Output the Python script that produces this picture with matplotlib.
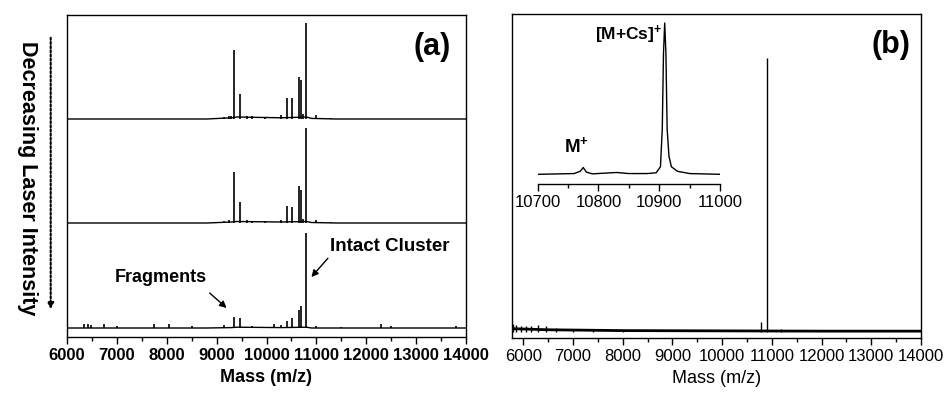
import numpy as np
import matplotlib
matplotlib.use("Agg")
import matplotlib.pyplot as plt
from matplotlib.ticker import MultipleLocator

plt.rcParams['font.family'] = ['Liberation Sans', 'DejaVu Sans']
plt.rcParams['mathtext.fontset'] = 'custom'
plt.rcParams['mathtext.rm'] = 'Liberation Sans'
plt.rcParams['mathtext.bf'] = 'Liberation Sans:bold'

# panel (a): three spectra, peak masses and relative heights
top_mass = [9150, 9250, 9290, 9350, 9460, 9600, 9700, 9960, 10300, 10410, 10520, 10650, 10685, 10740, 10785, 10990, 11300]
top_int = [0.02, 0.03, 0.03, 0.69, 0.25, 0.03, 0.03, 0.02, 0.04, 0.21, 0.21, 0.42, 0.39, 0.05, 0.96, 0.04, 0.01]
mid_mass = [8950, 9150, 9250, 9350, 9460, 9600, 9700, 9960, 10300, 10410, 10520, 10650, 10685, 10740, 10785, 10990, 11300]
mid_int = [0.01, 0.02, 0.03, 0.51, 0.21, 0.03, 0.02, 0.02, 0.03, 0.17, 0.16, 0.37, 0.33, 0.04, 0.95, 0.03, 0.01]
bot_mass = [6350, 6420, 6480, 6750, 7000, 7750, 8050, 8500, 9150, 9350, 9460, 9700, 10150, 10300, 10410, 10520,
            10650, 10700, 10785, 11000, 11500, 12300, 12500, 13800]
bot_int = [0.04, 0.04, 0.03, 0.04, 0.02, 0.04, 0.04, 0.02, 0.03, 0.11, 0.10, 0.02, 0.04, 0.03, 0.07, 0.10,
           0.18, 0.22, 0.95, 0.02, 0.01, 0.04, 0.02, 0.02]
# slow baseline hump under the fragment region
env_mass = [6000, 8800, 9300, 9400, 10300, 10800, 10900, 11400, 14000]
env_top = [0, 0, 0.012, 0.02, 0.012, 0.02, 0.006, 0, 0]
env_mid = [0, 0, 0.01, 0.015, 0.01, 0.015, 0.005, 0, 0]
env_bot = [0, 0, 0.004, 0.008, 0.004, 0.008, 0, 0, 0]
offsets = [2.09, 1.05, 0.0]

# panel (b): full spectrum
b_mass = [5800, 5850, 5950, 6050, 6150, 6300, 6450, 6650, 7000, 7400, 8000, 10780, 10900, 11180]
b_int = [0.03, 0.025, 0.02, 0.02, 0.02, 0.025, 0.02, 0.015, 0.01, 0.01, 0.008, 0.036, 1.0, 0.012]
b_base_mass = [5780, 6500, 8000, 10000, 12000, 14000]
b_base_int = [0.012, 0.008, 0.005, 0.004, 0.003, 0.003]

# inset: zoom on the cluster peak
ins_mass = [10700, 10760, 10770, 10775, 10780, 10790, 10820, 10830, 10850, 10880, 10895, 10902, 10905,
            10907, 10909, 10911, 10913, 10916, 10920, 10930, 10950, 11000]
ins_int = [0.0, 0.005, 0.02, 0.045, 0.015, 0.003, 0.01, 0.012, 0.005, 0.005, 0.01, 0.05, 0.3,
           0.8, 1.0, 0.8, 0.3, 0.12, 0.05, 0.02, 0.005, 0.0]

fig = plt.figure(figsize=(9.46, 3.93), dpi=100)

# ---------- (a) ----------
axa = fig.add_axes([67/946, 1-337/393, 399/946, 322/393])
spectra = [(top_mass, top_int, env_top), (mid_mass, mid_int, env_mid), (bot_mass, bot_int, env_bot)]
for (m, h, env), off in zip(spectra, offsets):
    axa.plot(env_mass, np.array(env) + off, color='k', lw=1.0)
    axa.vlines(m, off, np.array(h) + off, color='k', lw=1.2)
axa.set_xlim(6000, 14000)
axa.set_ylim(-0.09, 3.13)
axa.set_yticks([])
axa.xaxis.set_major_locator(MultipleLocator(1000))
axa.xaxis.set_minor_locator(MultipleLocator(500))
axa.tick_params(axis='x', which='major', length=5, width=1.0, labelsize=12, pad=3)
axa.tick_params(axis='x', which='minor', length=3, width=1.0)
for lab in axa.get_xticklabels():
    lab.set_fontweight('bold')
for s in axa.spines.values():
    s.set_linewidth(1.0)
axa.set_xlabel('Mass (m/z)', fontsize=13, fontweight='bold', labelpad=4)
axa.text(13320, 2.81, '(a)', fontsize=22, fontweight='bold', ha='center', va='center')
axa.annotate('Intact Cluster', xy=(10900, 0.51), xytext=(11280, 0.81), fontsize=13.5, fontweight='bold',
             ha='left', va='center',
             arrowprops=dict(arrowstyle='-|>', color='k', lw=1.0, shrinkA=0, shrinkB=0,
                             mutation_scale=10, relpos=(0, 0)))
axa.text(7880, 0.50, 'Fragments', fontsize=13, fontweight='bold', ha='center', va='center')
axa.annotate('', xy=(9200, 0.20), xytext=(8860, 0.35),
             arrowprops=dict(arrowstyle='-|>', color='k', lw=1.0, shrinkA=0, shrinkB=0, mutation_scale=10))

# dotted arrow and side label
fig.patches.append(matplotlib.patches.FancyArrowPatch(
    (50.7/946, 1-35/393), (50.7/946, 1-312/393), transform=fig.transFigure,
    arrowstyle='-|>', mutation_scale=9, color='k', lw=1.5, linestyle=(0, (1, 1))))
fig.text(27/946, 1-178/393, 'Decreasing Laser Intensity', rotation=270, fontsize=15.5,
         fontweight='bold', ha='center', va='center')

# ---------- (b) ----------
axb = fig.add_axes([512/946, 1-338/393, 409/946, 324/393])
axb.plot(b_base_mass, b_base_int, color='k', lw=2.0)
axb.vlines(b_mass, 0, b_int, color='k', lw=1.0)
axb.set_xlim(5773, 14000)
axb.set_ylim(-0.022, 1.16)
axb.set_yticks([])
axb.xaxis.set_major_locator(MultipleLocator(1000))
axb.xaxis.set_minor_locator(MultipleLocator(500))
axb.tick_params(axis='x', which='major', length=5, width=1.0, labelsize=12, pad=3)
axb.tick_params(axis='x', which='minor', length=3, width=1.0)
for s in axb.spines.values():
    s.set_linewidth(1.0)
axb.set_xlabel('Mass (m/z)', fontsize=13, labelpad=4)
axb.text(13395, 1.047, '(b)', fontsize=22, fontweight='bold', ha='center', va='center')

# inset
axi = fig.add_axes([537.7/946, 1-184.3/393, 182.3/946, 164.3/393])
axi.plot(ins_mass, ins_int, color='k', lw=1.0)
axi.set_xlim(10700, 11000)
axi.set_ylim(-0.066, 1.02)
axi.set_yticks([])
axi.patch.set_alpha(0)
for k in ['top', 'left', 'right']:
    axi.spines[k].set_visible(False)
axi.spines['bottom'].set_linewidth(1.0)
axi.xaxis.set_major_locator(MultipleLocator(100))
axi.xaxis.set_minor_locator(MultipleLocator(50))
axi.tick_params(axis='x', which='major', length=5, width=1.0, labelsize=12, pad=3)
axi.tick_params(axis='x', which='minor', length=3, width=1.0)
axi.text(10905, 0.89, r'$\mathbf{[M{+}Cs]^{+}}$', fontsize=12.5, ha='right', va='baseline')
axi.text(10743, 0.146, r'$\mathbf{M^{+}}$', fontsize=13.5, ha='left', va='baseline')

fig.savefig('out.png', dpi=100)
